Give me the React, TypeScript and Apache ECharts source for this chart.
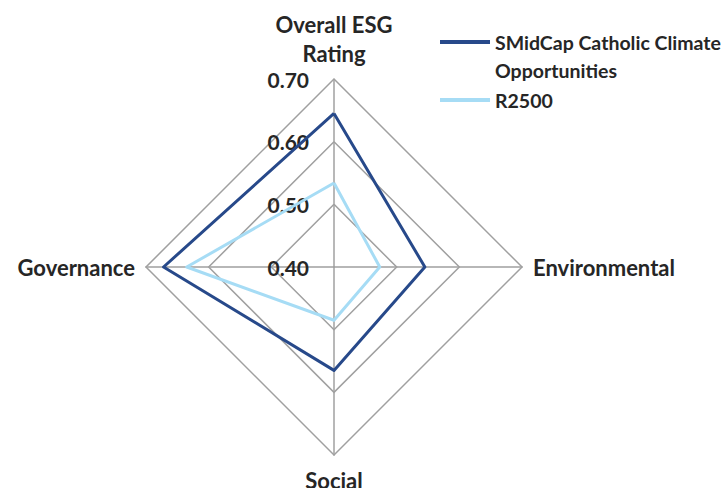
import React, { useEffect, useRef } from "react";
import * as echarts from "echarts";

// Indicators are listed counter-clockwise from the top, which is how ECharts lays out radar axes.
const indicatorNames = ["Overall ESG Rating", "Governance", "Social", "Environmental"];
const fundName = "SMidCap Catholic Climate Opportunities";
const benchName = "R2500";
const fundValues = [0.645, 0.672, 0.565, 0.545];
const benchValues = [0.534, 0.635, 0.485, 0.473];
const scaleMin = 0.4;
const scaleMax = 0.7;
const tickLabels = ["0.40", "0.50", "0.60", "0.70"];

const FONT = "Lato, 'Liberation Sans', sans-serif";
const TEXT = "#262626";
const GRID = "#a0a0a0";
const FUND_COLOR = "#27498a";
const BENCH_COLOR = "#a6dcf5";

export default function App() {
  const ref = useRef<HTMLDivElement>(null);

  useEffect(() => {
    if (!ref.current) return;
    const chart = echarts.init(ref.current, undefined, { renderer: "svg" });
    chart.setOption({
      animation: false,
      backgroundColor: "#ffffff",
      legend: [
        {
          data: [fundName],
          left: 440,
          top: 0,
          padding: 0,
          icon: "rect",
          itemWidth: 50,
          itemHeight: 4,
          selectedMode: false,
          // leading blank line keeps the first text line level with the icon
          formatter: () => "\nSMidCap Catholic Climate\nOpportunities",
          textStyle: {
            fontFamily: FONT,
            fontSize: 19.5,
            fontWeight: "bold",
            color: TEXT,
            lineHeight: 28,
          },
        },
        {
          data: [benchName],
          left: 440,
          top: 90,
          padding: 0,
          icon: "rect",
          itemWidth: 50,
          itemHeight: 4,
          selectedMode: false,
          textStyle: {
            fontFamily: FONT,
            fontSize: 19.5,
            fontWeight: "bold",
            color: TEXT,
            lineHeight: 20,
          },
        },
      ],
      radar: {
        center: [334, 267],
        radius: 188,
        startAngle: 90,
        shape: "polygon",
        splitNumber: 3,
        nameGap: 11,
        indicator: indicatorNames.map((name, i) => ({
          name,
          min: scaleMin,
          max: scaleMax,
          ...(i === 0
            ? {
                axisLabel: {
                  show: true,
                  margin: 25,
                  fontFamily: FONT,
                  fontSize: 21,
                  fontWeight: "bold",
                  color: TEXT,
                  formatter: (v: number) => {
                    const idx = Math.round((v - scaleMin) / 0.1);
                    return tickLabels[idx] ?? v.toFixed(2);
                  },
                },
              }
            : {}),
        })),
        axisName: {
          fontFamily: FONT,
          fontSize: 22,
          fontWeight: "bold",
          color: TEXT,
          lineHeight: 29,
          formatter: (name: string) => (name === "Overall ESG Rating" ? "Overall ESG\nRating" : name),
        },
        axisLine: { lineStyle: { color: GRID, width: 1.5 } },
        splitLine: { lineStyle: { color: GRID, width: 1.5 } },
        splitArea: { show: false },
        axisTick: { show: false },
        axisLabel: { show: false },
      },
      series: [
        {
          type: "radar",
          symbol: "none",
          data: [
            {
              name: fundName,
              value: fundValues,
              lineStyle: { color: FUND_COLOR, width: 3 },
              itemStyle: { color: FUND_COLOR },
            },
            {
              name: benchName,
              value: benchValues,
              lineStyle: { color: BENCH_COLOR, width: 3 },
              itemStyle: { color: BENCH_COLOR },
            },
          ],
        },
      ],
    });
    return () => chart.dispose();
  }, []);

  return (
    <div
      ref={ref}
      style={{ position: "fixed", left: 0, top: 0, width: 724, height: 488, background: "#fff" }}
    />
  );
}
